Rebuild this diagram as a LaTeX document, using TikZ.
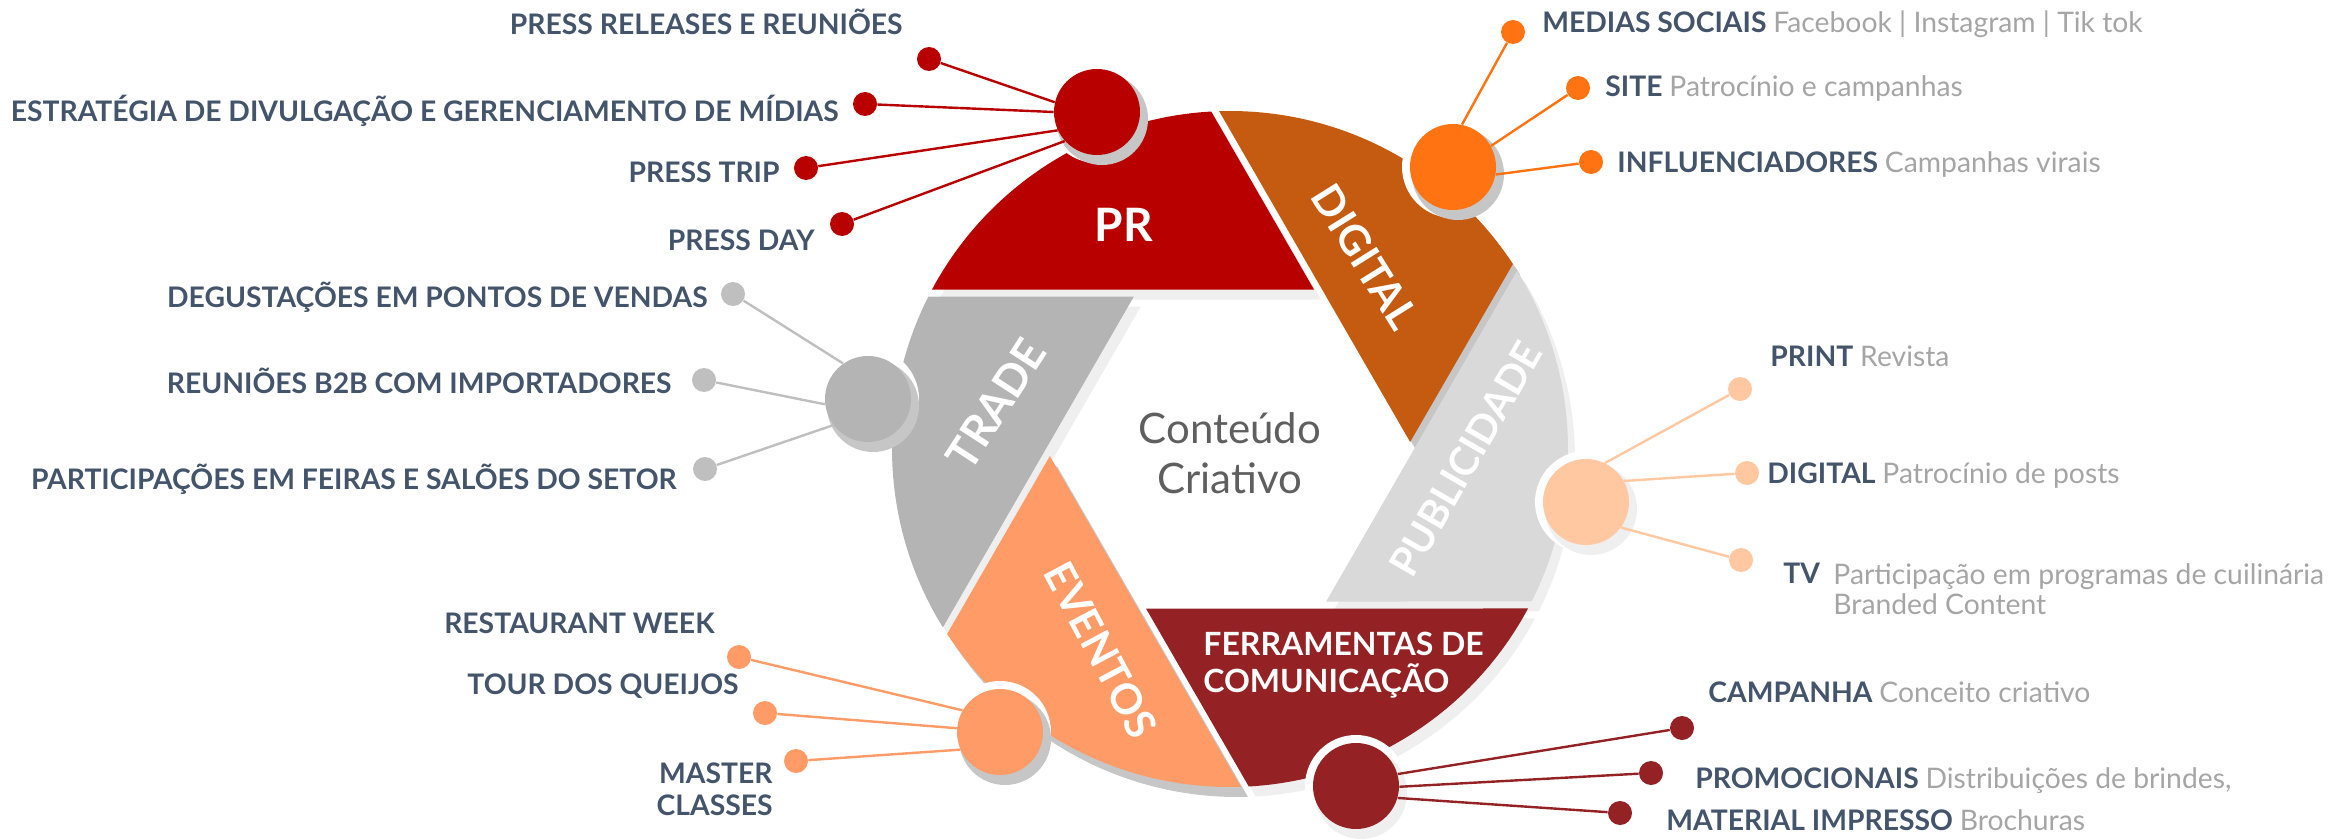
\documentclass[tikz,border=0pt]{standalone}
\usepackage{fontspec}
\setmainfont{Lato}
\definecolor{prred}{HTML}{B80000}
\definecolor{digbrown}{HTML}{C55A11}
\definecolor{digorange}{HTML}{FF7312}
\definecolor{pubgray}{HTML}{D9D9D9}
\definecolor{pubpeach}{HTML}{FFC8A0}
\definecolor{ferred}{HTML}{942224}
\definecolor{evesalmon}{HTML}{FF9B66}
\definecolor{tragray}{HTML}{B4B4B4}
\definecolor{tradot}{HTML}{BFBFBF}
\definecolor{navy}{HTML}{44546A}
\definecolor{descgray}{HTML}{A5A5A5}
\definecolor{centergray}{HTML}{5F5F5F}
\definecolor{shdark}{HTML}{C6C6C6}
\definecolor{shlight}{HTML}{EFEFEF}
\def\bladeshape{({90+acos(159.5/338)}:338) -- (84.0,159.5) -- ({30+acos(152.5/338)}:338) arc[start angle={30+acos(152.5/338)}, end angle={90+acos(159.5/338)}, radius=338] -- cycle}
\newcommand\dsc[1]{{\mdseries\color{descgray}#1}}
\tikzset{
  lbl/.style={font=\fontsize{14.15}{16}\selectfont\bfseries, text=navy, inner sep=0pt},
  bladetxt/.style={font=\fontsize{21}{24}\selectfont\bfseries, text=white, inner sep=0pt},
  smalldot/.style={circle, fill=#1, minimum size=12pt, inner sep=0pt},
  bubble/.style={circle, fill=#1, minimum size=43pt, inner sep=0pt},
  link/.style={draw=#1, line width=1.2pt},
}
\begin{document}
\begin{tikzpicture}[x=0.5pt,y=0.5pt]
\useasboundingbox (0,0) rectangle (2346,-840);
% blade shadows
\foreach \rot/\sc in {0/shlight,-60/shdark,-120/shlight,-180/shlight,-240/shdark,-300/shlight}{
  \fill[\sc, shift={(1237,-459)}, rotate=\rot] \bladeshape;
}
% blades
\fill[prred, shift={(1230,-449)}] \bladeshape;
\fill[digbrown, shift={(1230,-449)}, rotate=-60] \bladeshape;
\fill[pubgray, shift={(1230,-449)}, rotate=-120] \bladeshape;
\fill[ferred, shift={(1230,-449)}, rotate=-180] \bladeshape;
\fill[evesalmon, shift={(1230,-449)}, rotate=-240] \bladeshape;
\fill[tragray, shift={(1230,-449)}, rotate=-300] \bladeshape;
% blade labels
\node[bladetxt, font=\fontsize{23}{26}\selectfont\bfseries] (lPR) at (1124,-225) {PR};
\node[bladetxt, rotate=-58] (lDIG) at (1365,-257) {DIGITAL};
\node[bladetxt, font=\fontsize{20}{24}\selectfont\bfseries, rotate=60] (lPUB) at (1466,-459) {PUBLICIDADE};
\node[bladetxt, font=\fontsize{16}{18.5}\selectfont\bfseries, align=left, anchor=north west] (lFER) at (1203,-632) {FERRAMENTAS DE\\COMUNICAÇÃO};
\node[bladetxt, rotate=-62] (lEVE) at (1101,-650) {EVENTOS};
\node[bladetxt, font=\fontsize{22}{24}\selectfont\bfseries, rotate=57] (lTRA) at (996,-404) {TRADE};
\node[font=\fontsize{21}{25}\selectfont, text=centergray, align=center, anchor=base, inner sep=0pt] (ctr) at (1230,-493) {Conteúdo\\Criativo};
% bubble centres
\coordinate (cPR) at (1097,-112);
\coordinate (cDIG) at (1453,-167);
\coordinate (cPUB) at (1586,-502);
\coordinate (cFER) at (1356,-786);
\coordinate (cEVE) at (1000,-732);
\coordinate (cTRA) at (868,-399);
% halos and shadows
\foreach \c/\sc in {cPR/shdark,cDIG/shdark,cPUB/shlight,cFER/shlight,cEVE/shdark,cTRA/shdark}{
  \fill[white] (\c) circle (51);
  \fill[\sc] ([shift={(5,-7)}]\c) circle (46);
}
% bubbles
\node[bubble=prred] (bPR) at (cPR) {};
\node[bubble=digorange] (bDIG) at (cDIG) {};
\node[bubble=pubpeach] (bPUB) at (cPUB) {};
\node[bubble=ferred] (bFER) at (cFER) {};
\node[bubble=evesalmon] (bEVE) at (cEVE) {};
\node[bubble=tragray] (bTRA) at (cTRA) {};
% dots
\node[smalldot=prred] (p1) at (929,-59) {};
\node[smalldot=prred] (p2) at (865,-104) {};
\node[smalldot=prred] (p3) at (806,-168) {};
\node[smalldot=prred] (p4) at (842,-224) {};
\node[smalldot=digorange] (g1) at (1513,-32) {};
\node[smalldot=digorange] (g2) at (1578,-88) {};
\node[smalldot=digorange] (g3) at (1591,-162) {};
\node[smalldot=pubpeach] (u1) at (1740,-389) {};
\node[smalldot=pubpeach] (u2) at (1747,-473) {};
\node[smalldot=pubpeach] (u3) at (1741,-560) {};
\node[smalldot=ferred] (f1) at (1682,-728) {};
\node[smalldot=ferred] (f2) at (1651,-773) {};
\node[smalldot=ferred] (f3) at (1620,-813) {};
\node[smalldot=evesalmon] (e1) at (739,-657) {};
\node[smalldot=evesalmon] (e2) at (765,-713) {};
\node[smalldot=evesalmon] (e3) at (796,-761) {};
\node[smalldot=tradot] (t1) at (733,-294) {};
\node[smalldot=tradot] (t2) at (704,-380) {};
\node[smalldot=tradot] (t3) at (705,-469) {};
% connectors
\draw[link=prred] (p1) -- (bPR.167);
\draw[link=prred] (p2) -- (bPR.180);
\draw[link=prred] (p3) -- (bPR.205);
\draw[link=prred] (p4) -- (bPR.222);
\draw[link=digorange] (g1) -- (bDIG.78);
\draw[link=digorange] (g2) -- (bDIG.29);
\draw[link=digorange] (g3) -- (bDIG.350);
\draw[link=pubpeach] (u1) -- (bPUB.64);
\draw[link=pubpeach] (u2) -- (bPUB.29);
\draw[link=pubpeach] (u3) -- (bPUB.324);
\draw[link=ferred] (f1) -- (bFER.16);
\draw[link=ferred] (f2) -- (bFER.359);
\draw[link=ferred] (f3) -- (bFER.344);
\draw[link=evesalmon] (e1) -- (bEVE.150);
\draw[link=evesalmon] (e2) -- (bEVE.175);
\draw[link=evesalmon] (e3) -- (bEVE.204);
\draw[link=tradot] (t1) -- (bTRA.125);
\draw[link=tradot] (t2) -- (bTRA.187);
\draw[link=tradot] (t3) -- (bTRA.217);
% labels left
\node[lbl, anchor=base east] (tp1) at (903,-35) {PRESS RELEASES E REUNIÕES};
\node[lbl, anchor=base east] (tp2) at (839,-122) {ESTRATÉGIA DE DIVULGAÇÃO E GERENCIAMENTO DE MÍDIAS};
\node[lbl, anchor=base east] (tp3) at (780,-183) {PRESS TRIP};
\node[lbl, anchor=base east] (tp4) at (815,-250) {PRESS DAY};
\node[lbl, anchor=base east] (tt1) at (708,-307) {DEGUSTAÇÕES EM PONTOS DE VENDAS};
\node[lbl, anchor=base east] (tt2) at (672,-393) {REUNIÕES B2B COM IMPORTADORES};
\node[lbl, anchor=base east] (tt3) at (677,-489) {PARTICIPAÇÕES EM FEIRAS E SALÕES DO SETOR};
\node[lbl, anchor=base east] (te1) at (715,-633) {RESTAURANT WEEK};
\node[lbl, anchor=base east] (te2) at (739,-694) {TOUR DOS QUEIJOS};
\node[lbl, anchor=north east, align=right] (te3) at (773,-762) {MASTER\\CLASSES};
% labels right
\node[lbl, anchor=base west] (td1) at (1542,-33) {MEDIAS SOCIAIS \dsc{Facebook | Instagram | Tik tok}};
\node[lbl, anchor=base west] (td2) at (1605,-97) {SITE \dsc{Patrocínio e campanhas}};
\node[lbl, anchor=base west] (td3) at (1617,-173) {INFLUENCIADORES \dsc{Campanhas virais}};
\node[lbl, anchor=base west] (tu1) at (1770,-366) {PRINT \dsc{Revista}};
\node[lbl, anchor=base west] (tu2) at (1767,-483) {DIGITAL \dsc{Patrocínio de posts}};
\node[lbl, anchor=base west] (tu3) at (1783,-583) {TV};
\node[lbl, font=\fontsize{14.15}{15}\selectfont, text=descgray, anchor=north west, align=left] (tu4) at (1833,-563) {Participação em programas de cuilinária\\Branded Content};
\node[lbl, anchor=base west] (tf1) at (1708,-702) {CAMPANHA \dsc{Conceito criativo}};
\node[lbl, anchor=base west] (tf2) at (1695,-788) {PROMOCIONAIS \dsc{Distribuições de brindes,}};
\node[lbl, anchor=base west] (tf3) at (1666,-830) {MATERIAL IMPRESSO \dsc{Brochuras}};
\end{tikzpicture}
\end{document}
